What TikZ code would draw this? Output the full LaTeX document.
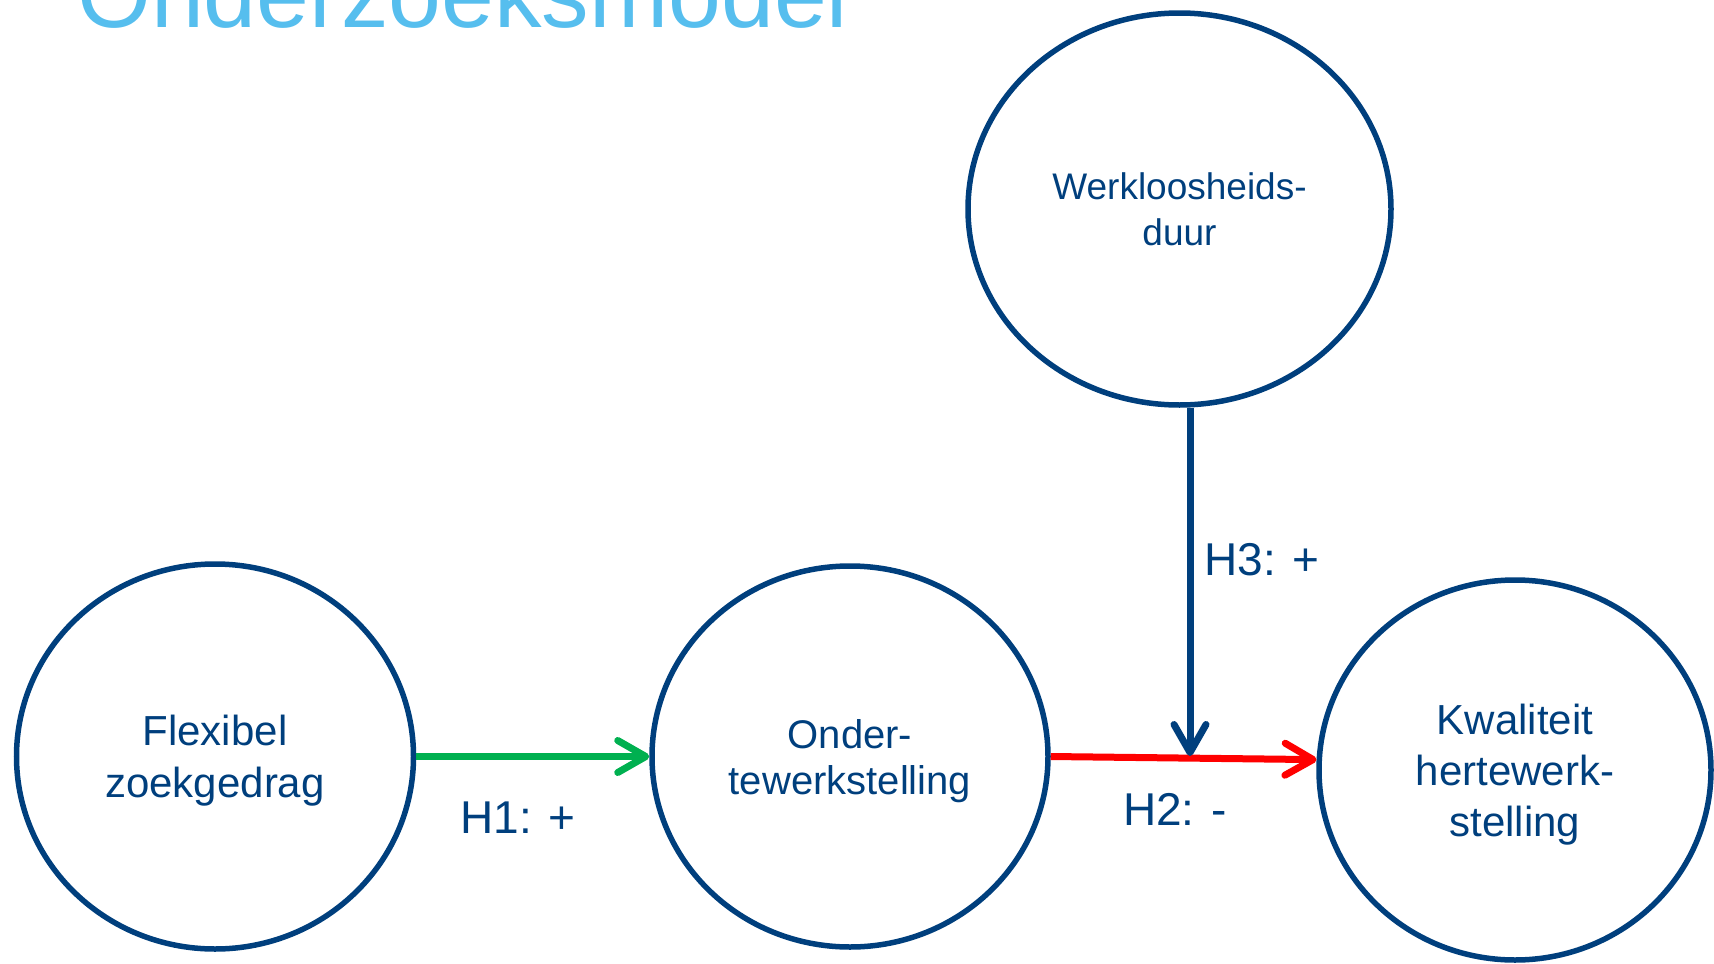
\documentclass[tikz,border=0pt]{standalone}
\usepackage{fontspec}
\setmainfont{Liberation Sans}
\usetikzlibrary{shapes.geometric,arrows.meta}
\definecolor{dblue}{RGB}{0,63,125}
\definecolor{lblue}{RGB}{86,190,238}
\definecolor{pgreen}{RGB}{0,176,80}
\definecolor{pred}{RGB}{255,0,0}
\tikzset{
  circ/.style={ellipse, draw=dblue, line width=5.5pt, inner sep=0pt, align=center, text=dblue, text depth=0pt},
  conn/.style={line width=7pt, -{Straight Barb[length=28pt,width=32pt,round]}},
  hlab/.style={text=dblue, font=\fontsize{46}{50}\selectfont, anchor=base, inner sep=0pt}
}
\begin{document}
\begin{tikzpicture}[x=1pt,y=-1pt]
\useasboundingbox (0,0) rectangle (1714,964);
\clip (0,0) rectangle (1714,964);
\node[text=lblue, font=\fontsize{95}{100}\selectfont, anchor=base west, inner sep=0pt] (title) at (77,27) {Onderzoeksmodel};
\node[circ, minimum width=397pt, minimum height=385pt, font=\fontsize{42}{52}\selectfont] (flex) at (215,756.5) {Flexibel\\zoekgedrag};
\node[circ, minimum width=396pt, minimum height=381pt, font=\fontsize{40}{46}\selectfont] (onder) at (850,756.5) {Onder-\\tewerkstelling};
\node[circ, minimum width=423pt, minimum height=392pt, font=\fontsize{37}{46}\selectfont] (werk) at (1179.5,209) {Werkloosheids-\\duur};
\node[circ, minimum width=392pt, minimum height=380pt, font=\fontsize{42}{51}\selectfont] (kwal) at (1515,770) {Kwaliteit\\hertewerk-\\stelling};
\coordinate (h3tip) at (1190,756);
\draw[conn, draw=pgreen] (flex.east) -- (onder.west);
\draw[conn, draw=pred] (onder.east) -- (kwal.177);
\draw[conn, draw=dblue] (werk.south -| h3tip) -- (h3tip);
\node[hlab] (h1) at (518,833) {H1: +};
\node[hlab] (h2) at (1175,825) {H2: -};
\node[hlab] (h3) at (1262,575) {H3: +};
\end{tikzpicture}
\end{document}
